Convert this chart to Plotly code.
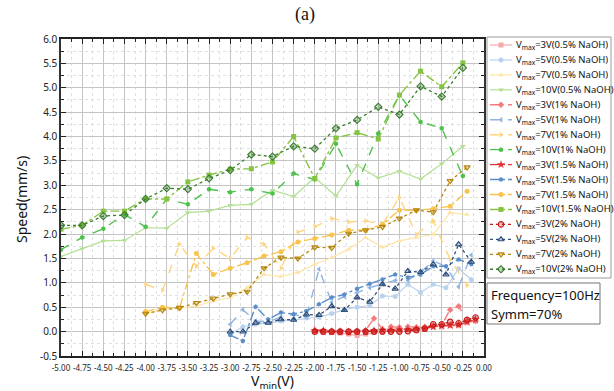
import plotly.graph_objects as go

W, H = 614, 391

# ---------------- data ----------------
x10 = [-5.00, -4.75, -4.50, -4.25, -4.00, -3.75, -3.50, -3.25, -3.00, -2.75,
       -2.50, -2.25, -2.00, -1.75, -1.50, -1.25, -1.00, -0.75, -0.50, -0.25]
x7 = [-4.0, -3.8, -3.6, -3.4, -3.2, -3.0, -2.8, -2.6, -2.4, -2.2,
      -2.0, -1.8, -1.6, -1.4, -1.2, -1.0, -0.8, -0.6, -0.4, -0.2]
x5 = [-3.00, -2.85, -2.70, -2.55, -2.40, -2.25, -2.10, -1.95, -1.80, -1.65,
      -1.50, -1.35, -1.20, -1.05, -0.90, -0.75, -0.60, -0.45, -0.30, -0.15]
x3 = [-2.0, -1.9, -1.8, -1.7, -1.6, -1.5, -1.4, -1.3, -1.2, -1.1,
      -1.0, -0.9, -0.8, -0.7, -0.6, -0.5, -0.4, -0.3, -0.2, -0.1]

v3_05 = [0.00, -0.02, -0.02, -0.03, -0.05, -0.08, -0.05, -0.02, 0.00, 0.02,
         0.03, 0.05, 0.05, 0.07, 0.10, 0.10, 0.12, 0.12, 0.18, 0.22]
v5_05 = [-0.05, 0.10, 0.15, 0.18, 0.22, 0.25, 0.28, 0.30, 0.37, 0.45,
         0.50, 0.54, 0.73, 0.72, 0.97, 0.80, 0.97, 0.90, 1.29, 1.07]
v7_05 = [0.37, 0.46, 0.48, 0.52, 0.63, 0.70, 0.90, 1.17, 1.13, 1.21,
         1.38, 1.52, 1.69, 1.93, 1.73, 1.86, 1.93, 1.99, 2.44, 2.40]
v10_05 = [1.54, 1.70, 1.86, 1.87, 2.13, 2.12, 2.44, 2.47, 2.59, 2.61,
          2.90, 2.77, 3.16, 2.78, 3.41, 3.15, 3.29, 3.13, 3.44, 3.80]

v3_1 = [0.03, 0.02, 0.00, 0.00, -0.02, 0.00, 0.03, 0.27, 0.05, 0.10,
        0.09, 0.10, 0.09, 0.10, 0.12, 0.14, 0.45, 0.52, 0.22, 0.22]
v5_1 = [0.15, 0.45, 0.22, 0.20, 0.30, 0.35, 0.30, 1.28, 0.60, 0.72,
        0.80, 0.90, 0.98, 1.05, 1.05, 1.22, 1.45, 1.33, 0.92, 1.57]
v7_1 = [0.97, 0.85, 1.79, 1.34, 1.71, 1.50, 1.93, 1.79, 1.30, 2.04,
        2.15, 2.32, 2.25, 2.27, 2.20, 2.75, 1.99, 2.27, 1.48, 0.95]
v10_1 = [1.68, 1.93, 2.11, 2.40, 2.15, 2.72, 2.61, 2.92, 2.86, 2.92,
         2.83, 3.24, 3.12, 3.85, 3.02, 4.06, 4.85, 4.30, 4.17, 3.19]

v3_15 = [0.02, 0.02, 0.00, 0.00, -0.01, 0.00, 0.00, 0.02, 0.03, 0.03,
         0.04, 0.04, 0.05, 0.06, 0.10, 0.12, 0.13, 0.14, 0.20, 0.25]
v5_15 = [-0.07, -0.19, 0.51, 0.25, 0.39, 0.36, 0.42, 0.56, 0.70, 0.76,
         0.88, 0.98, 1.07, 1.17, 1.11, 1.17, 1.34, 1.34, 1.48, 1.38]
v7_15 = [0.41, 0.50, 0.48, 1.60, 1.17, 1.30, 1.41, 1.55, 1.64, 1.84,
         1.91, 1.98, 2.08, 2.08, 2.20, 2.49, 2.49, 2.52, 2.57, 2.88]
v10_15 = [2.10, 2.18, 2.47, 2.47, 2.72, 2.72, 3.07, 3.21, 3.33, 3.34,
          3.48, 4.00, 3.14, 3.97, 4.08, 3.95, 4.85, 5.34, 5.02, 5.51]

v3_2 = [0.00, 0.00, 0.00, 0.00, 0.00, 0.00, 0.00, 0.00, 0.00, 0.00,
        0.00, 0.01, 0.03, 0.06, 0.15, 0.15, 0.20, 0.17, 0.24, 0.29]
v5_2 = [0.00, 0.00, 0.18, 0.18, 0.25, 0.24, 0.35, 0.34, 0.52, 0.44,
        0.70, 0.61, 0.97, 0.88, 1.24, 1.22, 1.38, 1.17, 1.79, 1.43]
v7_2 = [0.37, 0.44, 0.49, 0.59, 0.68, 0.77, 0.82, 1.30, 1.52, 1.50,
        1.73, 1.72, 2.01, 2.08, 2.15, 2.32, 2.49, 2.45, 3.09, 3.37]
v10_2 = [2.18, 2.18, 2.37, 2.39, 2.72, 2.94, 2.92, 3.14, 3.31, 3.63,
         3.59, 3.80, 3.75, 4.17, 4.34, 4.61, 4.45, 5.03, 4.82, 5.41]

labels = ["V<sub>max</sub>=3V(0.5% NaOH)", "V<sub>max</sub>=5V(0.5% NaOH)",
          "V<sub>max</sub>=7V(0.5% NaOH)", "V<sub>max</sub>=10V(0.5% NaOH)",
          "V<sub>max</sub>=3V(1% NaOH)", "V<sub>max</sub>=5V(1% NaOH)",
          "V<sub>max</sub>=7V(1% NaOH)", "V<sub>max</sub>=10V(1% NaOH)",
          "V<sub>max</sub>=3V(1.5% NaOH)", "V<sub>max</sub>=5V(1.5% NaOH)",
          "V<sub>max</sub>=7V(1.5% NaOH)", "V<sub>max</sub>=10V(1.5% NaOH)",
          "V<sub>max</sub>=3V(2% NaOH)", "V<sub>max</sub>=5V(2% NaOH)",
          "V<sub>max</sub>=7V(2% NaOH)", "V<sub>max</sub>=10V(2% NaOH)"]

# ---------------- styles ----------------
styles = [
    # (x, y, color, dash, symbol, width)
    (x3, v3_05, "#f6a9a9", "solid", "square", 1.2),
    (x5, v5_05, "#b9d3ee", "solid", "circle", 1.2),
    (x7, v7_05, "#fde5a6", "solid", "triangle-up", 1.2),
    (x10, v10_05, "#b3e095", "solid", "triangle-down", 1.2),
    (x3, v3_1, "#f47c7c", "dash", "diamond", 1.4),
    (x5, v5_1, "#8db4e2", "dash", "triangle-left", 1.4),
    (x7, v7_1, "#fdd57e", "dash", "triangle-right", 1.4),
    (x10, v10_1, "#4cc24c", "dash", "hexagon", 1.4),
    (x3, v3_15, "#e53535", "dashdot", "star", 1.4),
    (x5, v5_15, "#5a8dc9", "dashdot", "pentagon", 1.4),
    (x7, v7_15, "#f8c44e", "dashdot", "circle", 1.4),
    (x10, v10_15, "#84c440", "dashdot", "square", 1.4),
    (x3, v3_2, "#c41a1a", "dot", "circle", 1.3),
    (x5, v5_2, "#2f4e7a", "dot", "triangle-up", 1.3),
    (x7, v7_2, "#b5860d", "dot", "triangle-down", 1.3),
    (x10, v10_2, "#3a7c2e", "dot", "diamond", 1.3),
]


def hex_rgba(h, a):
    h = h.lstrip("#")
    return "rgba(%d,%d,%d,%.2f)" % (int(h[0:2], 16), int(h[2:4], 16), int(h[4:6], 16), a)


def mk(i, col, sym):
    open_m = i >= 12
    size = 5
    if sym == "star":
        size = 6.5
    if open_m:
        size = 5.5
    return dict(symbol=sym, size=size,
                color=hex_rgba(col, 0.3) if open_m else col,
                line=dict(color=col, width=1.1 if open_m else 0))


fig = go.Figure()

for i, (xs, ys, col, dash, sym, lw) in enumerate(styles):
    fig.add_trace(go.Scatter(x=xs, y=ys, mode="lines+markers",
                             line=dict(color=col, dash=dash, width=lw),
                             marker=mk(i, col, sym), showlegend=False,
                             xaxis="x", yaxis="y"))

# ---------------- custom legend ----------------
LX0, LX1, LY0, LY1 = 487, 611, 37, 278
row0, rowgap = 45.0, 14.95
for i, (xs, ys, col, dash, sym, lw) in enumerate(styles):
    yy = row0 + i * rowgap
    fig.add_trace(go.Scatter(x=[490, 512], y=[yy, yy], mode="lines",
                             line=dict(color=col, dash=dash, width=lw),
                             showlegend=False, xaxis="x2", yaxis="y2"))
    fig.add_trace(go.Scatter(x=[501], y=[yy], mode="markers",
                             marker=mk(i, col, sym),
                             showlegend=False, xaxis="x2", yaxis="y2"))
    fig.add_annotation(x=514 / W, y=1 - yy / H, xref="paper", yref="paper",
                       text=labels[i], showarrow=False, xanchor="left", yanchor="middle",
                       font=dict(size=9.5, color="#111", family="Noto Sans"))

fig.add_shape(type="rect", xref="paper", yref="paper",
              x0=LX0 / W, x1=LX1 / W, y0=1 - LY1 / H, y1=1 - LY0 / H,
              line=dict(color="#9a9a9a", width=1))

# text box
fig.add_shape(type="rect", xref="paper", yref="paper",
              x0=487 / W, x1=600 / W, y0=1 - 324 / H, y1=1 - 283 / H,
              line=dict(color="#777", width=1))
fig.add_annotation(x=489 / W, y=1 - 295 / H, xref="paper", yref="paper",
                   text="Frequency=100Hz", showarrow=False, xanchor="left", yanchor="middle",
                   font=dict(size=13, color="#111", family="Noto Sans"))
fig.add_annotation(x=489 / W, y=1 - 314 / H, xref="paper", yref="paper",
                   text="Symm=70%", showarrow=False, xanchor="left", yanchor="middle",
                   font=dict(size=13, color="#111", family="Noto Sans"))

# titles
fig.add_annotation(x=305 / W, y=1 - 15 / H, xref="paper", yref="paper", text="(a)",
                   showarrow=False, xanchor="center", yanchor="middle",
                   font=dict(size=18, color="#111", family="Liberation Serif"))
fig.add_annotation(x=21 / W, y=1 - 200 / H, xref="paper", yref="paper", text="Speed(mm/s)",
                   showarrow=False, textangle=-90, xanchor="center", yanchor="middle",
                   font=dict(size=14, color="#111", family="Noto Sans"))
fig.add_annotation(x=272 / W, y=1 - 381 / H, xref="paper", yref="paper",
                   text="V<sub>min</sub>(V)", showarrow=False, xanchor="center", yanchor="middle",
                   font=dict(size=14, color="#111", family="Noto Sans"))

xt = [-5.0 + 0.25 * k for k in range(21)]
yt = [-0.5 + 0.5 * k for k in range(14)]

fig.update_layout(
    width=W, height=H, margin=dict(l=0, r=0, t=0, b=0),
    paper_bgcolor="white", plot_bgcolor="white", showlegend=False,
    xaxis=dict(domain=[61 / W, 484 / W], range=[-5.0, 0.0], anchor="y",
               tickvals=xt, ticktext=["%.2f" % v for v in xt],
               ticks="inside", ticklen=5, tickwidth=1.2, tickcolor="#222",
               showline=True, linecolor="#222", linewidth=2, mirror="ticks",
               showgrid=True, gridcolor="#c4c4c4", gridwidth=1, zeroline=False,
               minor=dict(dtick=0.125, tick0=0, ticks="inside", ticklen=3, tickcolor="#222",
                          showgrid=True, gridcolor="#e0e0e0", griddash="dot"),
               ticklabelstandoff=3,
               tickfont=dict(size=8, color="#222", family="Noto Sans"), automargin=False),
    yaxis=dict(domain=[1 - 356 / H, 1 - 39 / H], range=[-0.5, 6.0], anchor="x",
               tickvals=yt, ticktext=["%.1f" % v for v in yt],
               ticks="inside", ticklen=5, tickwidth=1.2, tickcolor="#222",
               showline=True, linecolor="#333", linewidth=1.5, mirror="ticks",
               showgrid=True, gridcolor="#c4c4c4", gridwidth=1, zeroline=False,
               minor=dict(dtick=0.25, tick0=0, ticks="inside", ticklen=3, tickcolor="#222",
                          showgrid=True, gridcolor="#e0e0e0", griddash="dot"),
               tickfont=dict(size=10, color="#222", family="Noto Sans"), automargin=False),
    xaxis2=dict(domain=[LX0 / W, LX1 / W], range=[LX0, LX1], anchor="y2",
                visible=False, fixedrange=True),
    yaxis2=dict(domain=[1 - LY1 / H, 1 - LY0 / H], range=[LY1, LY0], anchor="x2",
                visible=False, fixedrange=True),
)

fig.write_html("out.html")
